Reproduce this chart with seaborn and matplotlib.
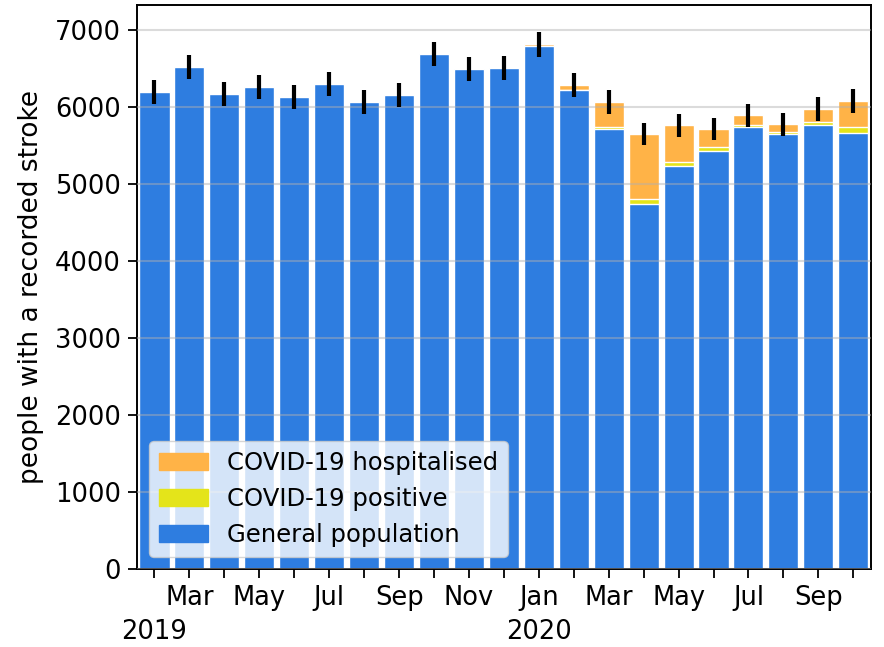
import numpy as np
import pandas as pd
import matplotlib
matplotlib.use("Agg")
import matplotlib.pyplot as plt
import seaborn as sns
from matplotlib.patches import Patch

# monthly counts, Feb 2019 .. Oct 2020
months = ["2019-02", "2019-03", "2019-04", "2019-05", "2019-06", "2019-07",
          "2019-08", "2019-09", "2019-10", "2019-11", "2019-12", "2020-01",
          "2020-02", "2020-03", "2020-04", "2020-05", "2020-06", "2020-07",
          "2020-08", "2020-09", "2020-10"]
general = [6195, 6520, 6170, 6260, 6130, 6300, 6065, 6155, 6690, 6495, 6505,
           6790, 6220, 5718, 4740, 5234, 5429, 5740, 5649, 5766, 5662]
covid_positive = [0, 0, 0, 0, 0, 0, 0, 0, 0, 0, 0,
                  4, 5, 27, 65, 52, 52, 26, 26, 39, 78]
covid_hospitalised = [0, 0, 0, 0, 0, 0, 0, 0, 0, 0, 0,
                      24, 61, 320, 844, 480, 233, 130, 104, 169, 338]
errors = [154, 158, 154, 155, 153, 156, 153, 154, 160, 158, 158,
          162, 155, 153, 147, 149, 148, 150, 149, 151, 153]
month_labels = ["", "Mar", "", "May", "", "Jul", "", "Sep", "", "Nov", "",
                "Jan", "", "Mar", "", "May", "", "Jul", "", "Sep", ""]
year_labels = ["2019", "2020"]
year_pos = [0, 11]

blue = "#2e7de0"
yellow = "#e4e41a"
orange = "#ffb347"

df = pd.DataFrame({
    "month": months,
    "general": general,
    "positive": covid_positive,
    "hospitalised": covid_hospitalised,
    "err": errors,
})
df["with_pos"] = df["general"] + df["positive"]
df["total"] = df["with_pos"] + df["hospitalised"]

sns.set_theme(style="ticks")
plt.rcParams["font.family"] = ["DejaVu Sans"]
plt.rcParams["text.color"] = "black"
plt.rcParams["axes.labelcolor"] = "black"

fig = plt.figure(figsize=(8.84, 6.47), dpi=100)
ax = fig.add_axes([0.155, 0.1206, 0.83, 0.8716])

# stacked bars: draw the running totals from the top layer down
sns.barplot(data=df, x="month", y="total", order=months, color=orange,
            saturation=1, width=0.86, errorbar=None, ax=ax, zorder=2)
sns.barplot(data=df, x="month", y="with_pos", order=months, color=yellow,
            saturation=1, width=0.86, errorbar=None, ax=ax, zorder=2)
sns.barplot(data=df, x="month", y="general", order=months, color=blue,
            saturation=1, width=0.86, errorbar=None, ax=ax, zorder=2)

ax.errorbar(np.arange(len(months)), df["total"], yerr=df["err"], fmt="none",
            ecolor="black", elinewidth=3, capsize=0, zorder=4)

ax.set_ylim(0, 7325)
ax.set_xlim(-0.5, len(months) - 0.5)
ax.set_yticks(range(0, 8000, 1000))
ax.set_xticks(range(len(months)))
ax.set_xticklabels(month_labels)
# year labels on a second row (minor ticks, no tick marks)
ax.xaxis.remove_overlapping_locs = False
ax.set_xticks(year_pos, minor=True)
ax.set_xticklabels(year_labels, minor=True)
ax.tick_params(axis="x", which="minor", length=0, pad=36, labelsize=18.5,
               colors="black")
ax.set_xlabel("")
ax.set_ylabel("people with a recorded stroke", fontsize=19, labelpad=8)

ax.yaxis.grid(True, color="#b0b0b0", alpha=0.45, linewidth=1.5, zorder=3)
ax.set_axisbelow(False)
ax.tick_params(axis="both", which="major", labelsize=18.5, length=6.5,
               width=1.3, pad=5, colors="black")
for sp in ax.spines.values():
    sp.set_visible(True)
    sp.set_color("black")
    sp.set_linewidth(1.4)

handles = [Patch(color=orange, label="COVID-19 hospitalised"),
           Patch(color=yellow, label="COVID-19 positive"),
           Patch(color=blue, label="General population")]
leg = ax.legend(handles=handles, loc="lower left", fontsize=17.5, frameon=True,
                fancybox=True, framealpha=0.8, edgecolor="#cccccc")
leg.set_zorder(5)

fig.savefig("out.png", dpi=100)
